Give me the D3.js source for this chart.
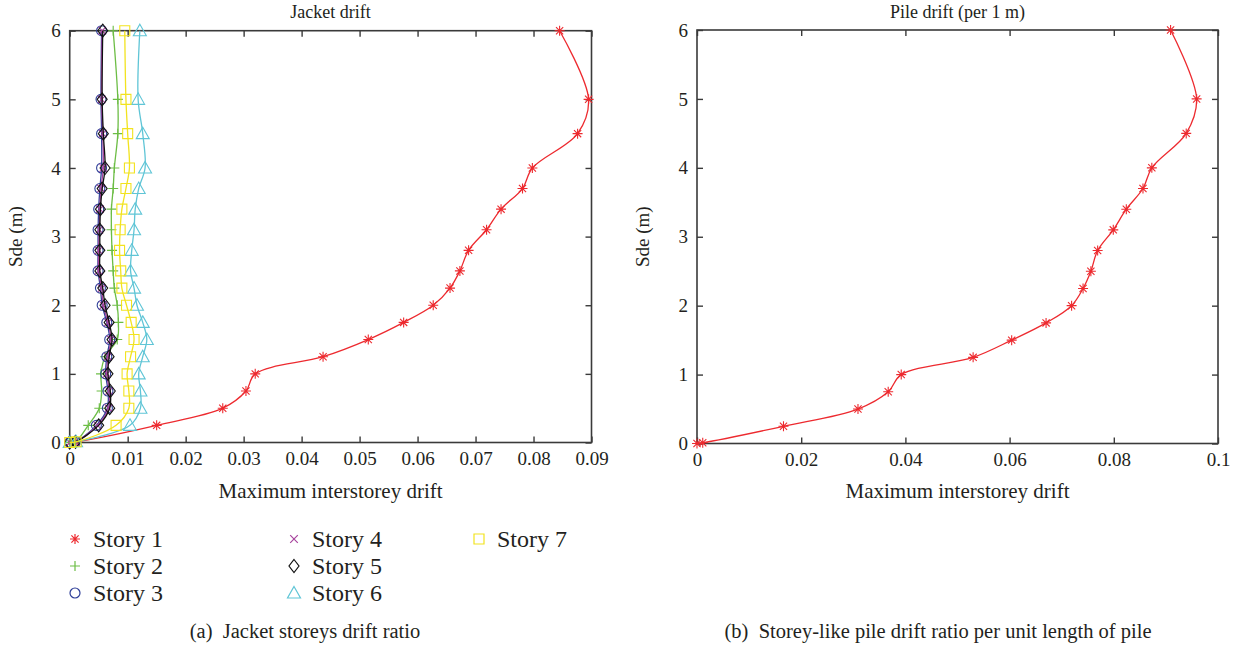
<!DOCTYPE html>
<html>
<head>
<meta charset="utf-8">
<script src="https://cdn.jsdelivr.net/npm/d3@7"></script>
<style>
  html, body { margin: 0; padding: 0; background: #fff; }
  svg text { font-family: "Liberation Serif", "DejaVu Serif", serif; fill: #231f20; }
</style>
</head>
<body>
<svg id="chart" width="1242" height="650"></svg>
<script>
// Sde levels (m) shared by every curve
const sde = [0, 0.01, 0.25, 0.5, 0.75, 1, 1.25, 1.5, 1.75, 2, 2.25, 2.5, 2.8, 3.1, 3.4, 3.7, 4, 4.5, 5, 6];

// Jacket storeys: maximum interstorey drift at each Sde level
const story1 = [0, 0.0011, 0.0150, 0.0264, 0.0304, 0.0320, 0.0437, 0.0515, 0.0576, 0.0627, 0.0656, 0.0673, 0.0688, 0.0719, 0.0744, 0.0781, 0.0798, 0.0876, 0.0895, 0.0845];
const story2 = [0, 0.0010, 0.0032, 0.0051, 0.0055, 0.0054, 0.0061, 0.0082, 0.0084, 0.0082, 0.0077, 0.0075, 0.0073, 0.0072, 0.0072, 0.0075, 0.0077, 0.0083, 0.0083, 0.0075];
const story3 = [0, 0.0010, 0.0046, 0.0065, 0.0066, 0.0062, 0.0064, 0.0069, 0.0064, 0.0056, 0.0053, 0.0049, 0.0049, 0.0049, 0.0050, 0.0052, 0.0055, 0.0055, 0.0054, 0.0055];
const story4 = [0, 0.0010, 0.0048, 0.0067, 0.0068, 0.0064, 0.0066, 0.0071, 0.0066, 0.0058, 0.0055, 0.0050, 0.0050, 0.0051, 0.0052, 0.0054, 0.0058, 0.0057, 0.0055, 0.0056];
const story5 = [0, 0.0010, 0.0050, 0.0069, 0.0070, 0.0066, 0.0068, 0.0073, 0.0068, 0.0061, 0.0057, 0.0052, 0.0052, 0.0052, 0.0053, 0.0056, 0.0061, 0.0058, 0.0056, 0.0057];
const story6 = [0, 0.0011, 0.0104, 0.0122, 0.0122, 0.0119, 0.0126, 0.0133, 0.0126, 0.0116, 0.0111, 0.0105, 0.0107, 0.0111, 0.0113, 0.0119, 0.0130, 0.0126, 0.0118, 0.0121];
const story7 = [0, 0.0011, 0.0080, 0.0102, 0.0102, 0.0099, 0.0105, 0.0111, 0.0106, 0.0098, 0.0090, 0.0088, 0.0086, 0.0087, 0.0090, 0.0097, 0.0103, 0.0100, 0.0097, 0.0095];

// Pile: storey-like drift per 1 m of pile
const pileDrift = [0, 0.0011, 0.0166, 0.0309, 0.0367, 0.0392, 0.0530, 0.0604, 0.0670, 0.0719, 0.0741, 0.0756, 0.0769, 0.0799, 0.0824, 0.0856, 0.0873, 0.0939, 0.0959, 0.0909];

const storyNames = ["Story 1", "Story 2", "Story 3", "Story 4", "Story 5", "Story 6", "Story 7"];
const storyColors = ["#ed2a2f", "#6cbd45", "#2e3f98", "#a8459e", "#111111", "#5fc5d6", "#f2e31f"];
const storyMarkers = ["star", "plus", "circle", "cross", "diamond", "triangle", "square"];

// Tick values and labels
const yTicks = [0, 1, 2, 3, 4, 5, 6];
const yTickLabels = ["0", "1", "2", "3", "4", "5", "6"];
const jacketXTicks = [0, 0.01, 0.02, 0.03, 0.04, 0.05, 0.06, 0.07, 0.08, 0.09];
const jacketXTickLabels = ["0", "0.01", "0.02", "0.03", "0.04", "0.05", "0.06", "0.07", "0.08", "0.09"];
const pileXTicks = [0, 0.02, 0.04, 0.06, 0.08, 0.1];
const pileXTickLabels = ["0", "0.02", "0.04", "0.06", "0.08", "0.1"];

const SERIF = "'Liberation Serif', 'DejaVu Serif', serif";
const svg = d3.select("#chart");

// Marker path generator (centered at 0,0)
function markerPath(kind) {
  const p = d3.path();
  switch (kind) {
    case "star": {
      const s = 5, d = 3.6;
      p.moveTo(-s, 0); p.lineTo(s, 0);
      p.moveTo(0, -s); p.lineTo(0, s);
      p.moveTo(-d, -d); p.lineTo(d, d);
      p.moveTo(-d, d); p.lineTo(d, -d);
      break;
    }
    case "plus": {
      const s = 5;
      p.moveTo(-s, 0); p.lineTo(s, 0);
      p.moveTo(0, -s); p.lineTo(0, s);
      break;
    }
    case "cross": {
      const s = 3.8;
      p.moveTo(-s, -s); p.lineTo(s, s);
      p.moveTo(-s, s); p.lineTo(s, -s);
      break;
    }
    case "circle":
      p.moveTo(5, 0); p.arc(0, 0, 5, 0, 2 * Math.PI);
      break;
    case "diamond":
      p.moveTo(0, -6.5); p.lineTo(5, 0); p.lineTo(0, 6.5); p.lineTo(-5, 0); p.closePath();
      break;
    case "triangle":
      p.moveTo(0, -6.5); p.lineTo(6.5, 5); p.lineTo(-6.5, 5); p.closePath();
      break;
    case "square":
      p.rect(-5, -5, 10, 10);
      break;
  }
  return p.toString();
}

function drawPanel(opts) {
  const { x, y, xTicks, xTickLabels, title, series } = opts;
  const g = svg.append("g");
  const [x0, x1] = x.range();
  const [y0, y1] = y.range();

  // axes on all four sides, ticks pointing into the plot
  const bottom = d3.axisBottom(x).tickValues(xTicks)
    .tickFormat((d, i) => xTickLabels[i]).tickSizeInner(-6).tickSizeOuter(0).tickPadding(9);
  const left = d3.axisLeft(y).tickValues(yTicks)
    .tickFormat((d, i) => yTickLabels[i]).tickSizeInner(-6).tickSizeOuter(0).tickPadding(9);
  const top = d3.axisTop(x).tickValues(xTicks).tickFormat("").tickSizeInner(-6).tickSizeOuter(0);
  const right = d3.axisRight(y).tickValues(yTicks).tickFormat("").tickSizeInner(-6).tickSizeOuter(0);

  const axes = [
    g.append("g").attr("transform", `translate(0,${y0})`).call(bottom),
    g.append("g").attr("transform", `translate(${x0},0)`).call(left),
    g.append("g").attr("transform", `translate(0,${y1})`).call(top),
    g.append("g").attr("transform", `translate(${x1},0)`).call(right)
  ];
  axes.forEach(a => {
    a.attr("font-family", SERIF).attr("font-size", 19);
    a.select(".domain").remove();
    a.selectAll(".tick line").attr("stroke", "#3a3a3a").attr("stroke-width", 1.4);
    a.selectAll(".tick text").attr("fill", "#231f20");
  });

  // frame
  g.append("rect")
    .attr("x", x0).attr("y", y1)
    .attr("width", x1 - x0).attr("height", y0 - y1)
    .attr("fill", "none").attr("stroke", "#3a3a3a").attr("stroke-width", 1.6);

  // titles
  g.append("text").attr("x", (x0 + x1) / 2).attr("y", 18)
    .attr("text-anchor", "middle").attr("font-size", 18).text(title);
  g.append("text").attr("x", (x0 + x1) / 2).attr("y", 498)
    .attr("text-anchor", "middle").attr("font-size", 21).text("Maximum interstorey drift");
  g.append("text")
    .attr("transform", `translate(${x0 - 48},${(y0 + y1) / 2}) rotate(-90)`)
    .attr("text-anchor", "middle").attr("font-size", 19).text("Sde (m)");

  const line = d3.line()
    .x(d => x(d[0])).y(d => y(d[1]))
    .curve(d3.curveCatmullRom.alpha(0.5));

  series.forEach(s => {
    const pts = s.values.map((v, i) => [v, sde[i]]);
    g.append("path").datum(pts)
      .attr("d", line)
      .attr("fill", "none").attr("stroke", s.color).attr("stroke-width", 1.3);
    g.append("g").selectAll("path").data(pts).join("path")
      .attr("transform", d => `translate(${x(d[0])},${y(d[1])})`)
      .attr("d", markerPath(s.marker))
      .attr("fill", "none").attr("stroke", s.color).attr("stroke-width", 1.1);
  });
}

const storySeries = [story1, story2, story3, story4, story5, story6, story7].map((vals, i) => ({
  values: vals, color: storyColors[i], marker: storyMarkers[i]
}));

// (a) Jacket storeys
drawPanel({
  x: d3.scaleLinear().domain([0, 0.09]).range([69.7, 591.5]),
  y: d3.scaleLinear().domain([0, 6]).range([442.5, 30.7]),
  xTicks: jacketXTicks, xTickLabels: jacketXTickLabels,
  title: "Jacket drift",
  series: storySeries
});

// (b) Pile
drawPanel({
  x: d3.scaleLinear().domain([0, 0.1]).range([697, 1218]),
  y: d3.scaleLinear().domain([0, 6]).range([443.5, 30]),
  xTicks: pileXTicks, xTickLabels: pileXTickLabels,
  title: "Pile drift (per 1 m)",
  series: [{ values: pileDrift, color: storyColors[0], marker: "star" }]
});

// Legend for the jacket panel (three columns)
const legendCols = [75, 294, 479];
const legendRows = [539, 566, 593];
const legend = svg.append("g");
storyNames.forEach((name, i) => {
  const col = Math.floor(i / 3), row = i % 3;
  const lx = legendCols[col], ly = legendRows[row];
  legend.append("path")
    .attr("transform", `translate(${lx},${ly})`)
    .attr("d", markerPath(storyMarkers[i]))
    .attr("fill", "none").attr("stroke", storyColors[i]).attr("stroke-width", 1.2);
  legend.append("text").attr("x", lx + 18).attr("y", ly + 8)
    .attr("font-size", 24).text(name);
});

// Sub-figure captions
svg.append("text").attr("x", 305).attr("y", 638).attr("text-anchor", "middle")
  .attr("font-size", 20.5).text("(a)\u2002Jacket storeys drift ratio");
svg.append("text").attr("x", 938).attr("y", 638).attr("text-anchor", "middle")
  .attr("font-size", 20.5).text("(b)\u2002Storey-like pile drift ratio per unit length of pile");
</script>
</body>
</html>
